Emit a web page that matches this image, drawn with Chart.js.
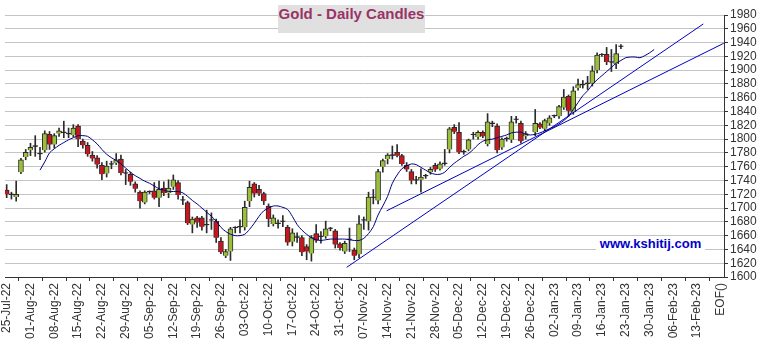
<!DOCTYPE html>
<html>
<head>
<meta charset="utf-8">
<title>Gold - Daily Candles</title>
<script src="https://cdn.jsdelivr.net/npm/chart.js@4.4.1/dist/chart.umd.min.js"></script>
<style>
  html, body { margin: 0; padding: 0; background: #fff; }
  #wrap { position: relative; width: 763px; height: 344px; }
  #title {
    position: absolute; left: 278px; top: 5px; width: 147px; height: 28px;
    line-height: 28px; background: #e0e0e0; color: #993366; text-align: center;
    font: bold 15px 'Liberation Sans', Arial, sans-serif;
  }
  #site {
    position: absolute; left: 596px; top: 236px; width: 109px; height: 22px;
    line-height: 22px; background: #fff; color: #0000cc; text-align: center;
    font: bold 13px 'Liberation Sans', Arial, sans-serif;
  }
</style>
</head>
<body>
<div id="wrap">
  <canvas id="goldChart" width="763" height="344"></canvas>
  <div id="title">Gold - Daily Candles</div>
  <div id="site">www.kshitij.com</div>
</div>
<script>
// daily candles, one slot per trading day from 25-Jul-22 (slot 110 = holiday)
const opens = [
  1726,1720,1716,1752,1774,1784,1789,1779,1784,1807,
  1792,1808,1810,1808,1806,1819,1797,1791,1777,1773,
  1762,1750,1763,1765,1771,1751,1749,1735,1723,1708,
  1723,1725,1715,1729,1722,1731,1737,1711,1708,1676,
  1686,1686,1675,1682,1681,1652,1631,1637,1671,1672,
  1672,1710,1735,1727,1721,1703,1677,1677,1680,1672,
  1651,1657,1657,1644,1634,1663,1658,1659,1670,1667,
  1648,1637,1654,1639,1633,1682,1681,1715,1711,1760,
  1771,1776,1781,1776,1762,1753,1740,1741,1746,1752,
  1762,1757,1764,1785,1817,1810,1781,1785,1806,1803,
  1810,1793,1822,1819,1788,1800,1799,1828,1823,1804,
  null,1810,1822,1815,1823,1833,1833,1846,1862,1839,
  1874,1878,1880,1881,1900,1922,1923,1911,1909,1934
];
const highs = [
  1734,1723,1739,1772,1785,1794,1805,1788,1812,1811,
  1808,1816,1826,1816,1821,1821,1800,1795,1782,1776,
  1766,1768,1768,1779,1777,1756,1752,1738,1725,1725,
  1725,1737,1739,1738,1741,1748,1740,1717,1710,1687,
  1688,1688,1697,1693,1684,1657,1640,1672,1673,1683,
  1710,1739,1737,1733,1723,1706,1690,1683,1689,1675,
  1670,1664,1660,1647,1660,1676,1666,1681,1672,1669,
  1650,1652,1671,1642,1689,1687,1723,1727,1756,1771,
  1779,1790,1792,1778,1766,1756,1746,1757,1749,1759,
  1765,1767,1785,1817,1821,1824,1784,1800,1810,1812,
  1812,1837,1826,1822,1802,1803,1833,1833,1826,1811,
  null,1843,1824,1829,1834,1835,1849,1872,1864,1876,
  1887,1885,1891,1906,1925,1924,1933,1930,1937,1937
];
const lows = [
  1715,1713,1710,1750,1770,1776,1775,1770,1781,1785,
  1787,1804,1802,1802,1803,1789,1787,1775,1768,1758,
  1741,1745,1757,1763,1748,1734,1733,1723,1700,1706,
  1721,1713,1702,1718,1715,1727,1713,1705,1676,1664,
  1672,1668,1664,1669,1650,1634,1628,1624,1664,1664,
  1668,1702,1716,1718,1705,1673,1674,1671,1673,1646,
  1645,1650,1631,1625,1623,1650,1649,1656,1667,1642,
  1639,1634,1637,1625,1628,1669,1668,1706,1706,1752,
  1764,1771,1774,1762,1753,1735,1735,1723,1743,1749,
  1753,1755,1762,1780,1808,1779,1778,1783,1800,1800,
  1802,1790,1818,1780,1785,1797,1795,1823,1794,1800,
  null,1805,1815,1812,1820,1831,1830,1843,1833,1836,
  1871,1874,1872,1877,1896,1920,1908,1898,1902,1931
];
const closes = [
  1720,1719,1720,1770,1781,1788,1790,1778,1808,1792,
  1805,1812,1809,1807,1816,1800,1791,1778,1772,1763,
  1749,1761,1763,1770,1751,1750,1738,1728,1710,1723,
  1723,1715,1727,1722,1729,1741,1719,1711,1678,1684,
  1679,1673,1675,1682,1657,1636,1637,1670,1671,1672,
  1701,1730,1721,1721,1710,1684,1686,1677,1680,1650,
  1664,1657,1636,1637,1657,1653,1658,1670,1670,1647,
  1642,1649,1654,1631,1677,1682,1716,1715,1753,1769,
  1777,1776,1776,1764,1756,1740,1740,1745,1746,1756,
  1756,1764,1764,1815,1811,1781,1781,1799,1806,1810,
  1804,1825,1822,1784,1800,1800,1825,1828,1797,1808,
  null,1823,1817,1827,1831,1833,1847,1861,1841,1870,
  1879,1878,1880,1899,1922,1922,1912,1911,1924,1934
];

// moving average, starting at day slot 7 and running a few days past the last candle
const maStart = 7;
const maValues = [
  1755,1767,1780,1786,1791,1795,1799,1802,1805,1805,
  1804,1799,1793,1785,1778,1773,1769,1764,1758,1752,
  1747,1743,1739,1736,1732,1728,1726,1724,1724,1724,
  1722,1717,1711,1706,1700,1694,1688,1681,1672,1666,
  1662,1660,1660,1662,1669,1678,1688,1696,1700,1703,
  1703,1701,1698,1688,1676,1668,1662,1657,1654,1653,
  1654,1655,1655,1655,1655,1654,1653,1653,1656,1663,
  1673,1690,1703,1717,1736,1748,1757,1761,1764,1763,
  1759,1755,1751,1749,1749,1752,1759,1765,1770,1775,
  1779,1785,1792,1797,1799,1800,1802,1804,1806,1809,
  1810,1810,1807,1806,1807,1809,1812,1815,1818,1822,
  1827,1833,1843,1853,1863,1870,1879,1886,1892,1898,
  1904,1910,1914,1918,1919,1919,1918,1921,1925,1930
];

// trend lines (start / end)
const trendADays = [71.4, 146.3];
const trendAValues = [1614, 1967];
const trendBDays = [79.8, 150.6];
const trendBValues = [1696, 1939];

// weekly date ticks on the x axis
const tickDays = [0,5,10,15,20,25,30,35,40,45,50,55,60,65,70,75,80,85,90,95,
                  100,105,110,115,120,125,130,135,140,145,150];
const tickLabels = [
  '25-Jul-22','01-Aug-22','08-Aug-22','15-Aug-22','22-Aug-22','29-Aug-22',
  '05-Sep-22','12-Sep-22','19-Sep-22','26-Sep-22','03-Oct-22','10-Oct-22',
  '17-Oct-22','24-Oct-22','31-Oct-22','07-Nov-22','14-Nov-22','21-Nov-22',
  '28-Nov-22','05-Dec-22','12-Dec-22','19-Dec-22','26-Dec-22','02-Jan-23',
  '09-Jan-23','16-Jan-23','23-Jan-23','30-Jan-23','06-Feb-23','13-Feb-23','EOF()'
];

const FONT = "'Liberation Sans', Arial, sans-serif";
const OUTLINE = '#2b2b2b';

function candleColor(o, c) {
  if (Math.abs(c - o) < 1.5) return OUTLINE;
  return c > o ? '#9cbf3b' : '#c8161e';
}

const wickData = [];
const bodyData = [];
const bodyColors = [];
closes.forEach((c, i) => {
  if (c == null) return;
  wickData.push({ x: i, y: [lows[i], highs[i]] });
  bodyData.push({ x: i, y: [opens[i], c] });
  bodyColors.push(candleColor(opens[i], c));
});

const maPoints = maValues.map((v, i) => ({ x: maStart + i, y: v }));
const trendA = trendADays.map((d, i) => ({ x: d, y: trendAValues[i] }));
const trendB = trendBDays.map((d, i) => ({ x: d, y: trendBValues[i] }));

const ctx = document.getElementById('goldChart').getContext('2d');
new Chart(ctx, {
  type: 'bar',
  data: {
    datasets: [
      { type: 'line', data: maPoints, borderColor: '#000080', borderWidth: 1,
        pointRadius: 0, tension: 0.3, order: 0 },
      { type: 'line', data: trendA, borderColor: '#0000c0', borderWidth: 1,
        pointRadius: 0, order: 0 },
      { type: 'line', data: trendB, borderColor: '#0000c0', borderWidth: 1,
        pointRadius: 0, order: 0 },
      { data: bodyData, backgroundColor: bodyColors, borderColor: OUTLINE,
        borderWidth: 1, barThickness: 5, minBarLength: 1, grouped: false, order: 1 },
      { data: wickData, backgroundColor: OUTLINE, barThickness: 1,
        grouped: false, order: 2 }
    ]
  },
  options: {
    responsive: false,
    animation: false,
    layout: { padding: { left: 5, top: 15, right: 0, bottom: 0 } },
    plugins: { legend: { display: false }, tooltip: { enabled: false } },
    scales: {
      x: {
        type: 'linear',
        min: -0.35,
        max: 150.65,
        offset: false,
        afterBuildTicks: axis => { axis.ticks = tickDays.map(v => ({ value: v })); },
        afterFit: axis => { axis.height = 67; },
        ticks: {
          autoSkip: false, minRotation: 90, maxRotation: 90, padding: 2,
          color: '#333', font: { family: FONT, size: 12 },
          callback: (v, i) => tickLabels[i]
        },
        grid: { drawOnChartArea: false, tickLength: 4, tickColor: '#333' },
        border: { color: '#333', width: 1 }
      },
      y: {
        position: 'right',
        min: 1600,
        max: 1980,
        afterFit: axis => { axis.width = 39; },
        ticks: {
          stepSize: 20, autoSkip: false, padding: 2, color: '#333',
          font: { family: FONT, size: 12 },
          callback: v => String(v)
        },
        grid: { color: '#c4c4c4', tickColor: '#333', tickLength: 4 },
        border: { color: '#333', width: 1 }
      }
    }
  }
});
</script>
</body>
</html>
